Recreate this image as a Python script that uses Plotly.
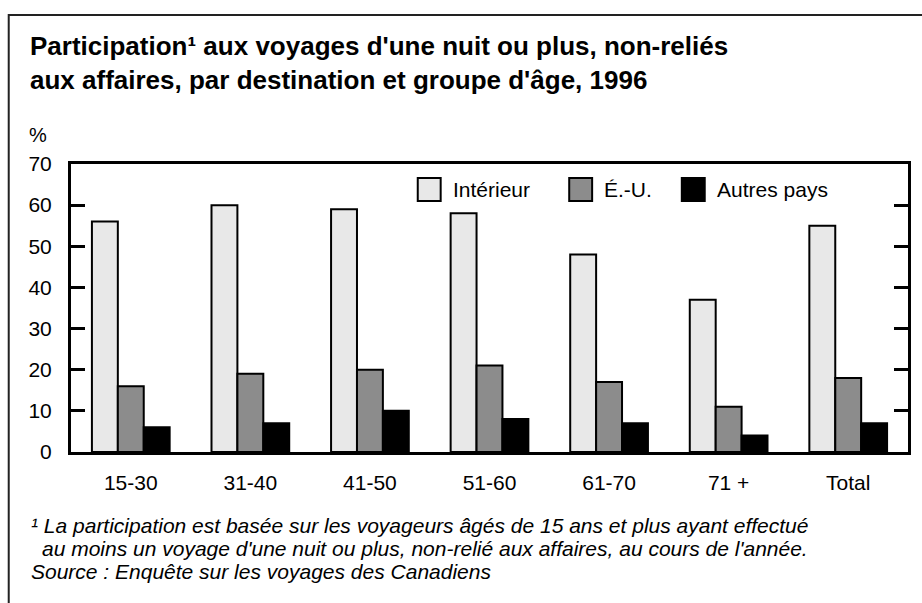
import plotly.graph_objects as go

categories = ["15-30", "31-40", "41-50", "51-60", "61-70", "71 +", "Total"]
interieur = [56, 60, 59, 58, 48, 37, 55]
eu = [16, 19, 20, 21, 17, 11, 18]
autres = [6, 7, 10, 8, 7, 4, 7]
series_names = ["Intérieur", "É.-U.", "Autres pays"]
series_colors = ["#e8e8e8", "#8c8c8c", "#000000"]
y_ticks = [0, 10, 20, 30, 40, 50, 60, 70]

W, H = 922, 603
L, R, T, B = 71, 11, 164, 151
PW, PH = W - L - R, H - T - B

def px(x):
    return (x - L) / PW

def py(y):
    return (H - B - y) / PH

FONT = "Liberation Sans, Arial, sans-serif"

fig = go.Figure()
for name, vals, col in zip(series_names, [interieur, eu, autres], series_colors):
    fig.add_trace(go.Bar(
        x=categories, y=vals, name=name,
        marker=dict(color=col, line=dict(color="black", width=2)),
        showlegend=False,
    ))

fig.update_layout(
    width=W, height=H,
    margin=dict(l=L, r=R, t=T, b=B),
    paper_bgcolor="white", plot_bgcolor="white",
    barmode="group", bargap=0.35, bargroupgap=0,
    font=dict(family=FONT, color="black", size=21),
    xaxis=dict(
        showline=True, linewidth=3, linecolor="black", mirror=True,
        ticks="", showgrid=False, ticklabelstandoff=10,
        tickfont=dict(size=21),
    ),
    yaxis=dict(
        range=[0, 70], tickvals=y_ticks,
        showline=True, linewidth=3, linecolor="black", mirror="ticks",
        ticks="inside", ticklen=14, tickwidth=3, tickcolor="black",
        showgrid=False, zeroline=False, ticklabelstandoff=12,
        tickfont=dict(size=21),
    ),
)

shapes = []
annotations = []

# outer frame
shapes.append(dict(type="rect", xref="paper", yref="paper",
                   x0=px(8.5), x1=px(930), y0=py(15), y1=py(615),
                   line=dict(color="#222222", width=2), fillcolor="rgba(0,0,0,0)"))

# title
annotations.append(dict(
    xref="paper", yref="paper", x=px(28), y=py(63), xanchor="left", yanchor="middle",
    align="left", showarrow=False,
    text="<b>Participation¹ aux voyages d'une nuit ou plus, non-reliés<br>aux affaires, par destination et groupe d'âge, 1996</b>",
    font=dict(size=26, family=FONT),
))

# % label
annotations.append(dict(xref="paper", yref="paper", x=px(27), y=py(135),
                        xanchor="left", yanchor="middle", showarrow=False,
                        text="%", font=dict(size=20)))

# legend (manual)
leg_boxes = [419, 571, 684]
for name, col, bx in zip(series_names, series_colors, leg_boxes):
    shapes.append(dict(type="rect", xref="paper", yref="paper",
                       x0=px(bx), x1=px(bx + 23), y0=py(201), y1=py(178),
                       fillcolor=col, line=dict(color="black", width=2)))
    annotations.append(dict(xref="paper", yref="paper", x=px(bx + 33), y=py(189),
                            xanchor="left", yanchor="middle", showarrow=False,
                            text=name, font=dict(size=21)))

# footnotes
foot = [
    (29, 525, "¹ La participation est basée sur les voyageurs âgés de 15 ans et plus ayant effectué"),
    (40, 548, "au moins un voyage d'une nuit ou plus, non-relié aux affaires, au cours de l'année."),
    (29, 571, "Source : Enquête sur les voyages des Canadiens"),
]
for fx, fy, txt in foot:
    annotations.append(dict(xref="paper", yref="paper", x=px(fx), y=py(fy),
                            xanchor="left", yanchor="middle", showarrow=False,
                            text="<i>" + txt + "</i>", font=dict(size=21)))

fig.update_layout(shapes=shapes, annotations=annotations)
fig.write_html("out.html",
               config={"displayModeBar": False},
               post_script="document.body.style.margin='0';document.body.style.overflow='hidden';")
